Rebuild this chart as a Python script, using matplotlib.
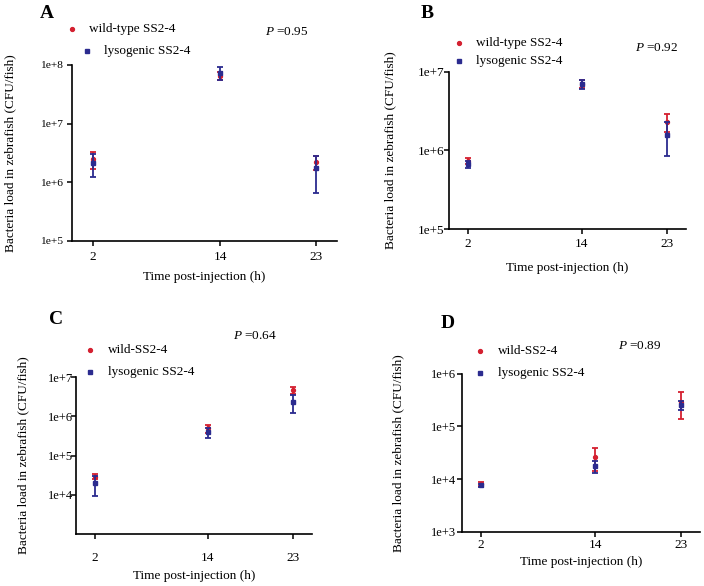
import matplotlib
matplotlib.use("Agg")
import matplotlib.pyplot as plt
from matplotlib.lines import Line2D
import numpy as np

plt.rcParams['font.family'] = ['Liberation Serif', 'DejaVu Serif']
plt.rcParams['mathtext.fontset'] = 'custom'
plt.rcParams['mathtext.it'] = 'Liberation Serif:italic'
plt.rcParams['mathtext.rm'] = 'Liberation Serif'

W, H = 704, 586
RED = '#d42030'
BLUE = '#2b2b8f'

hours = [2, 14, 23]
x_tick_labels = ['2', '14', '23']

# Panel A
a_wild_mean = [2.5e6, 6.6e7, 2.2e6]
a_wild_sd = [0.83e6, 1.1e7, 0.6e6]
a_lyso_mean = [2.12e6, 7.3e7, 1.75e6]
a_lyso_sd = [0.88e6, 1.8e7, 1.1e6]
# Panel B
b_wild_mean = [7.3e5, 7.0e6, 2.3e6]
b_wild_sd = [0.65e5, 0.8e6, 0.58e6]
b_lyso_mean = [6.7e5, 6.9e6, 1.57e6]
b_lyso_sd = [0.7e5, 0.9e6, 0.73e6]
# Panel C
c_wild_mean = [2.9e4, 5.0e5, 4.6e6]
c_wild_sd = [0.4e4, 1.2e5, 0.9e6]
c_lyso_mean = [1.95e4, 4.0e5, 2.4e6]
c_lyso_sd = [1.05e4, 1.2e5, 1.15e6]
# Panel D
d_wild_mean = [8.0e3, 2.6e4, 2.96e5]
d_wild_sd = [0.7e3, 1.2e4, 1.6e5]
d_lyso_mean = [7.6e3, 1.75e4, 2.55e5]
d_lyso_sd = [0.6e3, 0.45e4, 0.5e5]

legend_wild = ['wild-type SS2-4', 'wild-type SS2-4', 'wild-SS2-4', 'wild-SS2-4']
legend_lyso = ['lysogenic SS2-4'] * 4
p_values = ['0.95', '0.92', '0.64', '0.89']
panel_letters = ['A', 'B', 'C', 'D']
y_ticks_exp = [[5, 6, 7, 8], [5, 6, 7], [4, 5, 6, 7], [3, 4, 5, 6]]
y_lims = [(1e5, 1e8), (1e5, 1e7), (1e3, 1e7), (1e3, 1e6)]

data = [
    (a_wild_mean, a_wild_sd, a_lyso_mean, a_lyso_sd),
    (b_wild_mean, b_wild_sd, b_lyso_mean, b_lyso_sd),
    (c_wild_mean, c_wild_sd, c_lyso_mean, c_lyso_sd),
    (d_wild_mean, d_wild_sd, d_lyso_mean, d_lyso_sd),
]

# layout in pixels: left, right, top, bottom
boxes = [(72, 337, 65, 241), (448.5, 686.3, 71.7, 229.3),
         (75.7, 311.7, 377.3, 533.7), (462, 700.3, 373.7, 531.7)]
letter_pos = [(47, 13.5), (427.5, 13.5), (56.5, 320), (448, 324)]
leg_red = [(72, 29.3, 89.3), (458.7, 42.7, 476), (90, 349.7, 108.3), (480.3, 351.3, 497.7)]
leg_blue = [(87, 50.7, 104), (458.7, 61, 476), (90, 372, 108.3), (480.3, 373, 497.7)]
p_pos = [(265, 31.7), (634.7, 48.3), (233.3, 336.3), (617.7, 346.3)]
ylabel_x = [10, 390, 23.3, 398.7]
xlabel_y = [276.7, 267.7, 575.7, 562.3]
ytick_size = [8.2, 9.5, 9, 9]
ytick_pad = [3.0, -0.5, -1.5, 0.8]
xtick_pad = [4.0, 3.0, 10.0, 2.0]

fig = plt.figure(figsize=(W / 100, H / 100), dpi=100)

def fx(x):
    return x / W

def fy(y):
    return 1 - y / H

for i in range(4):
    l, r, t, b = boxes[i]
    ax = fig.add_axes([fx(l), fy(b), (r - l) / W, (b - t) / H])
    wm, ws, lm, ls = data[i]
    ax.errorbar(hours, wm, yerr=ws, fmt='o', color=RED, ms=2.8, elinewidth=1.3,
                capsize=2.3, capthick=1.3, zorder=3)
    ax.errorbar(hours, lm, yerr=ls, fmt='s', color=BLUE, ms=2.8, elinewidth=1.3,
                capsize=2.3, capthick=1.3, zorder=4)
    ax.set_yscale('log')
    ax.set_ylim(*y_lims[i])
    ax.set_xlim(0, 25)
    ax.set_yticks([10.0 ** e for e in y_ticks_exp[i]])
    ax.set_yticklabels(['1e+%d' % e for e in y_ticks_exp[i]])
    ax.yaxis.set_minor_locator(matplotlib.ticker.NullLocator())
    ax.set_xticks(hours)
    ax.set_xticklabels(x_tick_labels)
    ax.tick_params(axis='y', labelsize=ytick_size[i], length=3.5, width=1.1, pad=ytick_pad[i])
    ax.tick_params(axis='x', labelsize=9.5, length=3.5, width=1.1, pad=xtick_pad[i])
    for s in ['top', 'right']:
        ax.spines[s].set_visible(False)
    for s in ['left', 'bottom']:
        ax.spines[s].set_linewidth(1.2)
    # labels
    fig.text(fx(ylabel_x[i]), fy((t + b) / 2), 'Bacteria load in zebrafish (CFU/fish)',
             rotation=90, ha='center', va='center', fontsize=9.5)
    fig.text(fx((l + r) / 2), fy(xlabel_y[i]), 'Time post-injection (h)',
             ha='center', va='center', fontsize=9.5)
    lx, ly = letter_pos[i]
    fig.text(fx(lx), fy(ly), panel_letters[i], ha='center', va='center',
             fontsize=14, fontweight='bold')
    # legend
    mx, my, tx = leg_red[i]
    fig.add_artist(Line2D([fx(mx)], [fy(my)], marker='o', ms=2.8, color=RED,
                          linestyle='none', transform=fig.transFigure))
    fig.text(fx(tx), fy(my), legend_wild[i], ha='left', va='center', fontsize=9.5)
    mx, my, tx = leg_blue[i]
    fig.add_artist(Line2D([fx(mx)], [fy(my)], marker='s', ms=2.8, color=BLUE,
                          linestyle='none', transform=fig.transFigure))
    fig.text(fx(tx), fy(my), legend_lyso[i], ha='left', va='center', fontsize=9.5)
    px, py = p_pos[i]
    fig.text(fx(px), fy(py), '$\\mathit{P}$ =' + p_values[i], ha='left', va='center',
             fontsize=9.5)

fig.savefig('out.png', dpi=100)
